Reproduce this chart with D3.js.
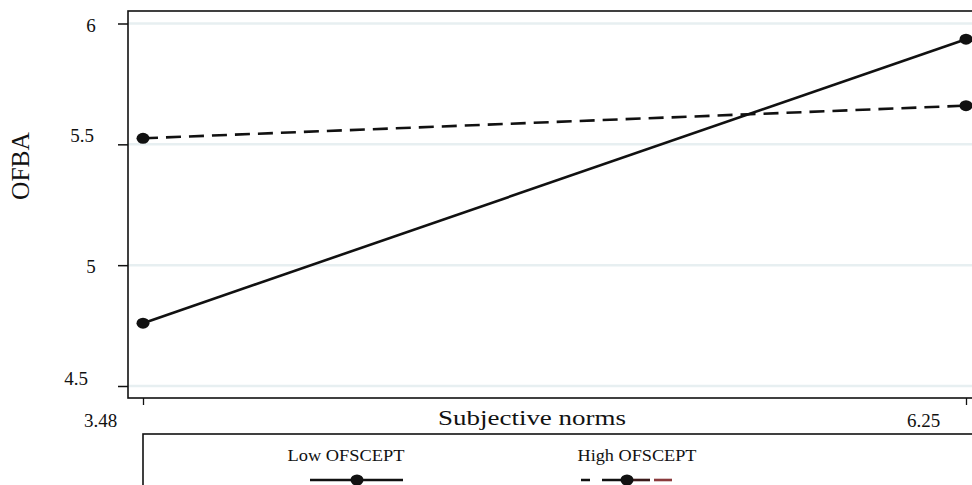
<!DOCTYPE html>
<html><head><meta charset="utf-8">
<script src="https://cdn.jsdelivr.net/npm/d3@7/dist/d3.min.js"></script>
<style>body{margin:0;background:#fff}svg{display:block}text{font-family:"Liberation Serif","Times New Roman",serif;fill:#111}</style>
</head><body><svg id="c" width="972" height="485"></svg>
<script>
const xTicks = [3.48, 6.25];
const yTicks = [4.5, 5, 5.5, 6];
const seriesNames = ["Low OFSCEPT", "High OFSCEPT"];
const lowValues = [4.76, 5.935];
const highValues = [5.525, 5.66];
const xTitle = "Subjective norms";
const yTitle = "OFBA";

const svg = d3.select("#c");
const W = 972, H = 485;
const plot = {left: 128, top: 11, right: 990, bottom: 398};
const x = d3.scaleLinear().domain([3.48, 6.25]).range([143, 966]);
const y = d3.scaleLinear().domain([4.5, 6]).range([386, 23.5]);

// grid
svg.append("g").selectAll("line").data(yTicks).join("line")
  .attr("x1", plot.left).attr("x2", W).attr("y1", d => y(d)).attr("y2", d => y(d))
  .attr("stroke", "#e7eff1").attr("stroke-width", 2.5);

// plot frame
svg.append("rect").attr("x", plot.left).attr("y", plot.top)
  .attr("width", plot.right - plot.left).attr("height", plot.bottom - plot.top)
  .attr("fill", "none").attr("stroke", "#111").attr("stroke-width", 1.6);

// y axis
const yAxis = d3.axisLeft(y).tickValues(yTicks).tickSize(10).tickFormat(d3.format("~g"));
const gy = svg.append("g").attr("transform", `translate(${plot.left},0)`).call(yAxis);
gy.select(".domain").remove();
gy.selectAll(".tick line").attr("stroke", "#111").attr("stroke-width", 1.5);
const yLabelOff = {"4.5": [-52, -8], "5": [-37, 1], "5.5": [-46, -9], "6": [-37, 2]};
gy.selectAll(".tick text").attr("font-size", 19).attr("text-anchor", "middle")
  .attr("fill", "#111")
  .attr("x", d => yLabelOff[String(d)][0]).attr("dy", "0.32em")
  .attr("y", d => yLabelOff[String(d)][1]);

// x axis
const xAxis = d3.axisBottom(x).tickValues(xTicks).tickSize(7).tickFormat(d => d.toFixed(2));
const gx = svg.append("g").attr("transform", `translate(0,${plot.bottom})`).call(xAxis);
gx.select(".domain").remove();
gx.selectAll(".tick line").attr("stroke", "#111").attr("stroke-width", 1.3);
gx.selectAll(".tick text").attr("font-size", 19).attr("text-anchor", "middle")
  .attr("fill", "#111")
  .attr("x", -43).attr("y", 29).attr("dy", 0);

// titles
svg.append("text").attr("x", 532).attr("y", 425).attr("text-anchor", "middle")
  .attr("font-size", 21).attr("textLength", 188).attr("lengthAdjust", "spacingAndGlyphs").text(xTitle);
svg.append("text").attr("transform", "translate(29,166) rotate(-90)").attr("text-anchor", "middle")
  .attr("font-size", 25).attr("textLength", 68).attr("lengthAdjust", "spacingAndGlyphs").text(yTitle);

// series
const data = [
  {name: seriesNames[0], vals: lowValues, dash: null},
  {name: seriesNames[1], vals: highValues, dash: "15,8"}
];
const line = d3.line().x(d => x(d[0])).y(d => y(d[1]));
data.forEach(s => {
  const pts = xTicks.map((t, i) => [t, s.vals[i]]);
  svg.append("path").datum(pts).attr("d", line).attr("fill", "none")
    .attr("stroke", "#111").attr("stroke-width", 2.6)
    .attr("stroke-dasharray", s.dash);
  svg.append("g").selectAll("ellipse").data(pts).join("ellipse")
    .attr("cx", d => x(d[0])).attr("cy", d => y(d[1]))
    .attr("rx", 6.5).attr("ry", 5.5).attr("fill", "#111");
});

// legend
svg.append("rect").attr("x", 143).attr("y", 434).attr("width", 900).attr("height", 100)
  .attr("fill", "none").attr("stroke", "#111").attr("stroke-width", 1.6);
const leg = [
  {cx: 357, x1: 310, x2: 403, tx: 346, s: data[0]},
  {cx: 627, x1: 581, x2: 672, tx: 637, s: data[1]}
];
leg.forEach(l => {
  svg.append("text").attr("x", l.tx).attr("y", 461).attr("text-anchor", "middle")
    .attr("font-size", 17).attr("textLength", l.s === data[0] ? 117 : 119)
    .attr("lengthAdjust", "spacingAndGlyphs").text(l.s.name);
  if (l.s.dash) {
    svg.append("line").attr("x1", l.x1).attr("x2", l.cx).attr("y1", 480).attr("y2", 480)
      .attr("stroke", "#111").attr("stroke-width", 2.6).attr("stroke-dasharray", "9,12,40");
    svg.append("line").attr("x1", l.cx + 6).attr("x2", l.cx + 23).attr("y1", 480).attr("y2", 480)
      .attr("stroke", "#3a1a1a").attr("stroke-width", 2.6);
    svg.append("line").attr("x1", l.cx + 27).attr("x2", l.x2).attr("y1", 480).attr("y2", 480)
      .attr("stroke", "#8a3a3c").attr("stroke-width", 2.6);
  } else {
    svg.append("line").attr("x1", l.x1).attr("x2", l.x2).attr("y1", 480).attr("y2", 480)
      .attr("stroke", "#111").attr("stroke-width", 2.6);
  }
  svg.append("ellipse").attr("cx", l.cx).attr("cy", 480).attr("rx", 6.5).attr("ry", 5.5).attr("fill", "#111");
});
</script></body></html>
